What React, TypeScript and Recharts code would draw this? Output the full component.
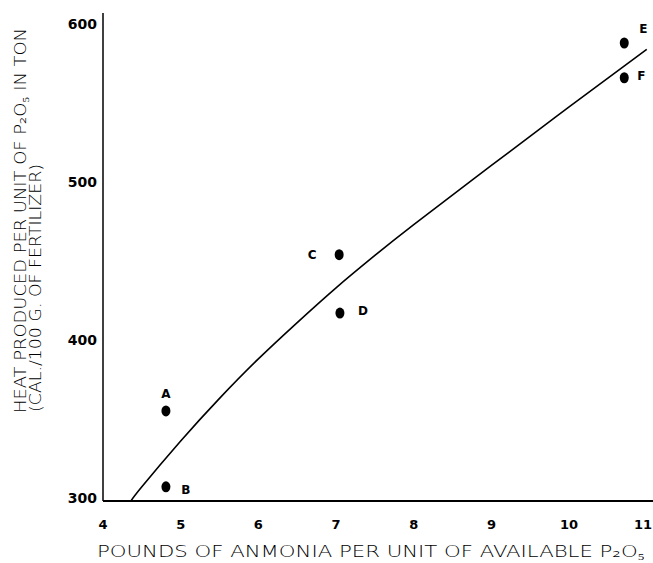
import { ComposedChart, Label, LabelList, Line, Scatter, XAxis, YAxis } from "recharts";

// measured points
const pointNames = ["A", "B", "C", "D", "E", "F"];
const pointX = [4.81, 4.81, 7.04, 7.05, 10.71, 10.71];
const pointY = [357, 309, 456, 419, 590, 568];

// fitted curve
const curveX = [4.36, 4.5, 5, 5.5, 6, 6.5, 7, 7.5, 8, 9, 10, 11];
const curveY = [300, 309, 338, 365, 390, 413, 435, 455.5, 475, 512.5, 549.5, 586];

const xTicks = [4, 5, 6, 7, 8, 9, 10, 11];
const yTicks = [300, 400, 500, 600];

const xTitle = "POUNDS OF ANMONIA PER UNIT OF AVAILABLE P₂O₅";
const yTitle1 = "HEAT PRODUCED PER UNIT OF P₂O₅ IN TON";
const yTitle2 = "(CAL./100 G. OF FERTILIZER)";

const points = pointNames.map((name, i) => ({ name, x: pointX[i], y: pointY[i] }));
const curve = curveX.map((x, i) => ({ x, y: curveY[i] }));

const W = 653;
const H = 563;
const tickFont = "DejaVu Sans";
const titleFont = "DejaVu Sans";

// where each letter sits relative to its dot
const letterOffset: Record<string, [number, number]> = {
  A: [0, -13],
  B: [20, 7],
  C: [-27, 4],
  D: [23, 2],
  E: [19, -10],
  F: [17, 2],
};

const Dot = (props: any) => (
  <ellipse cx={props.cx} cy={props.cy} rx={4.5} ry={5.5} fill="#000" />
);

const Letter = (props: any) => {
  const [dx, dy] = letterOffset[props.value] ?? [0, 0];
  const cx = props.x + props.width / 2;
  const cy = props.y + props.height / 2;
  return (
    <text
      x={cx + dx}
      y={cy + dy}
      textAnchor="middle"
      fontFamily={tickFont}
      fontWeight="bold"
      fontSize={12}
      fill="#000"
    >
      {props.value}
    </text>
  );
};

const YTick = (props: any) => (
  <text
    x={props.x}
    y={props.y + 2}
    textAnchor="end"
    fontFamily={tickFont}
    fontWeight="bold"
    fontSize={14}
    fill="#000"
  >
    {props.payload.value}
  </text>
);

const XTick = (props: any) => {
  const label = String(props.payload.value);
  // keep the last label inside the picture
  const half = label.length * 4.5;
  const x = Math.min(props.x, W - half - 1);
  return (
    <text
      x={x}
      y={props.y + 20}
      textAnchor="middle"
      fontFamily={tickFont}
      fontWeight="bold"
      fontSize={13}
      fill="#000"
    >
      {label}
    </text>
  );
};

const XTitle = (props: any) => {
  const vb = props.viewBox;
  return (
    <text
      x={vb.x - 6}
      y={vb.y + 56}
      textLength={548}
      lengthAdjust="spacingAndGlyphs"
      fontFamily={titleFont}
      fontWeight={300}
      fontSize={16}
      fill="#000"
    >
      {xTitle}
    </text>
  );
};

const YTitle = (props: any) => {
  const vb = props.viewBox;
  const bottom = vb.y + vb.height;
  return (
    <g>
      <text
        transform={`translate(${vb.x + 26},${bottom - 88}) rotate(-90)`}
        textLength={385}
        lengthAdjust="spacingAndGlyphs"
        fontFamily={titleFont}
        fontWeight={300}
        fontSize={16}
        fill="#000"
      >
        {yTitle1}
      </text>
      <text
        transform={`translate(${vb.x + 41},${bottom - 89}) rotate(-90)`}
        textLength={248}
        lengthAdjust="spacingAndGlyphs"
        fontFamily={titleFont}
        fontWeight={300}
        fontSize={16}
        fill="#000"
      >
        {yTitle2}
      </text>
    </g>
  );
};

export default function App() {
  return (
    <div style={{ position: "absolute", left: 0, top: 0, background: "#fff" }}>
      <ComposedChart
        width={W}
        height={H}
        margin={{ top: 13, right: 0, bottom: 0, left: 0 }}
      >
        <XAxis
          type="number"
          dataKey="x"
          domain={[4, 11.08]}
          ticks={xTicks}
          allowDataOverflow
          height={62}
          tickLine={false}
          tick={<XTick />}
          axisLine={{ stroke: "#000", strokeWidth: 2 }}
        >
          <Label content={<XTitle />} />
        </XAxis>
        <YAxis
          type="number"
          dataKey="y"
          domain={[300, 609]}
          ticks={yTicks}
          allowDataOverflow
          width={103}
          tickLine={false}
          tickSize={0}
          tickMargin={6}
          tick={<YTick />}
          axisLine={{ stroke: "#000", strokeWidth: 1.5 }}
        >
          <Label content={<YTitle />} />
        </YAxis>
        <Line
          data={curve}
          dataKey="y"
          type="natural"
          stroke="#000"
          strokeWidth={1.6}
          dot={false}
          activeDot={false}
          isAnimationActive={false}
        />
        <Scatter data={points} dataKey="y" shape={<Dot />} isAnimationActive={false}>
          <LabelList dataKey="name" content={<Letter />} />
        </Scatter>
      </ComposedChart>
    </div>
  );
}
